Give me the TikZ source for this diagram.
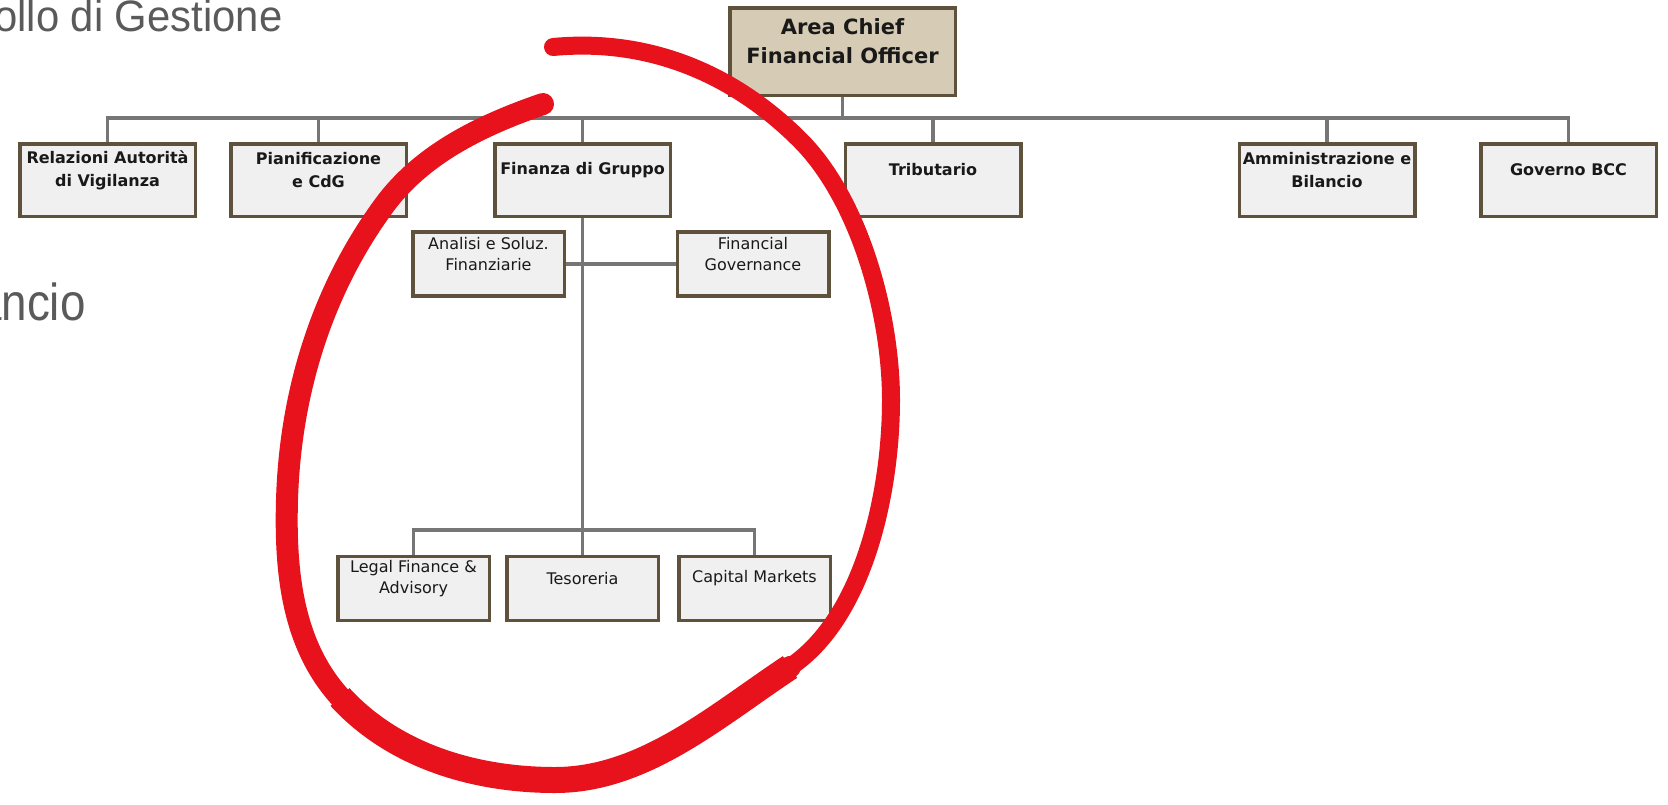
\documentclass[tikz,border=0pt]{standalone}
\usepackage{fontspec}
\usepackage{tikz}
\newfontfamily\boxfont{DejaVu Sans}
\newfontfamily\bgfont[FakeStretch=0.95]{Liberation Sans}
\newfontfamily\bgnarrow[FakeStretch=0.88]{Liberation Sans}
\definecolor{boxline}{RGB}{94,82,60}
\definecolor{boxfill}{RGB}{240,240,240}
\definecolor{cfofill}{RGB}{214,203,180}
\definecolor{connline}{RGB}{118,118,118}
\definecolor{bgtext}{RGB}{90,90,90}
\definecolor{penred}{RGB}{232,18,28}

\begin{document}
\begin{tikzpicture}[x=1pt,y=-1pt]
        \tikzset{unit/.style = {shape=rectangle,draw=boxline,line width=3.5pt,fill=boxfill,inner sep=0pt,minimum width=175.5pt,minimum height=72.5pt}}
        \tikzset{subunit/.style = {unit,minimum width=151.5pt,minimum height=64pt}}
        \tikzset{head/.style = {unit,fill=cfofill,minimum width=225.5pt,minimum height=87.5pt}}
        \tikzset{txt/.style = {align=center,yshift=10pt,inner sep=0pt,text=black!90,font=\boxfont\fontsize{16}{21}\selectfont}}
        \tikzset{btxt/.style = {txt,font=\boxfont\bfseries\fontsize{16}{23}\selectfont}}
        \tikzset{link/.style = {draw=connline,line width=3.5pt}}
        \tikzset{pen/.style = {draw=penred,line cap=round,line join=round}}
        \useasboundingbox (0,0) rectangle (1668,804);
        \clip (0,0) rectangle (1668,804);
        \node[anchor=base west,inner sep=0pt,text=bgtext,font=\bgfont\fontsize{44}{44}\selectfont] (ctrl) at (-6,31) {ollo di Gestione};
        \node[anchor=base west,inner sep=0pt,text=bgtext,font=\bgnarrow\fontsize{52}{52}\selectfont] (bil) at (-24,320) {ancio};
        \node[head,label={[btxt,font=\boxfont\bfseries\fontsize{21}{29}\selectfont]center:{Area Chief\\Financial Officer}}] (cfo) at (842.5,51.5) {};
        \node[unit,label={[btxt]center:{Relazioni Autorità\\di Vigilanza}}] (rel) at (107.5,180) {};
        \node[unit,label={[btxt]center:{Pianificazione\\e CdG}}] (pian) at (318.5,180) {};
        \node[unit,label={[btxt]center:Finanza di Gruppo}] (fin) at (582.5,180) {};
        \node[unit,label={[btxt]center:Tributario}] (trib) at (933,180) {};
        \node[unit,label={[btxt]center:{Amministrazione e\\Bilancio}}] (amm) at (1327,180) {};
        \node[unit,label={[btxt]center:Governo BCC}] (bcc) at (1568.5,180) {};
        \node[subunit,label={[txt]center:{Analisi e Soluz.\\Finanziarie}}] (ana) at (488.5,264) {};
        \node[subunit,label={[txt]center:{Financial\\Governance}}] (gov) at (753,264) {};
        \node[subunit,label={[txt]center:{Legal Finance \&\\Advisory}}] (legal) at (413.5,588.5) {};
        \node[subunit,label={[txt]center:Tesoreria}] (tes) at (582.5,588.5) {};
        \node[subunit,label={[txt]center:Capital Markets}] (cap) at (754.5,588.5) {};
        \coordinate (bus) at (842.5,118);
        \coordinate (sub) at (582.5,530);
        \draw[link] (cfo) -- (bus);
        \draw[link] (bus) -| (rel);
        \draw[link] (bus) -| (pian);
        \draw[link] (bus) -| (fin);
        \draw[link] (bus) -| (trib);
        \draw[link] (bus) -| (amm);
        \draw[link] (bus) -| (bcc);
        \draw[link] (ana) -- (gov);
        \draw[link] (fin) -- (sub);
        \draw[link] (sub) -| (legal);
        \draw[link] (sub) -- (tes);
        \draw[link] (sub) -| (cap);
        % the red ring drawn by hand, thicker at the bottom
        \draw[pen,line width=18pt] (553,47) .. controls (648,38) and (733,73) .. (800,140)
            .. controls (860,200) and (891,315) .. (891,400)
            .. controls (891,490) and (865,617) .. (790,667)
            .. controls (716,716) and (644,780) .. (555,780)
            .. controls (475,780) and (394,756) .. (340,697)
            .. controls (292,644) and (285,571) .. (287,500)
            .. controls (290,395) and (321,292) .. (383,207)
            .. controls (421,154) and (482,125) .. (543,104);
        \draw[pen,line width=22pt] (790,667) .. controls (716,716) and (644,780) .. (555,780)
            .. controls (475,780) and (394,756) .. (340,697)
            .. controls (292,644) and (285,571) .. (287,500)
            .. controls (290,395) and (321,292) .. (383,207)
            .. controls (421,154) and (482,125) .. (543,104);
        \draw[pen,line width=26pt,line cap=butt] (790,667) .. controls (716,716) and (644,780) .. (555,780)
            .. controls (475,780) and (394,756) .. (340,697);
\end{tikzpicture}
\end{document}
